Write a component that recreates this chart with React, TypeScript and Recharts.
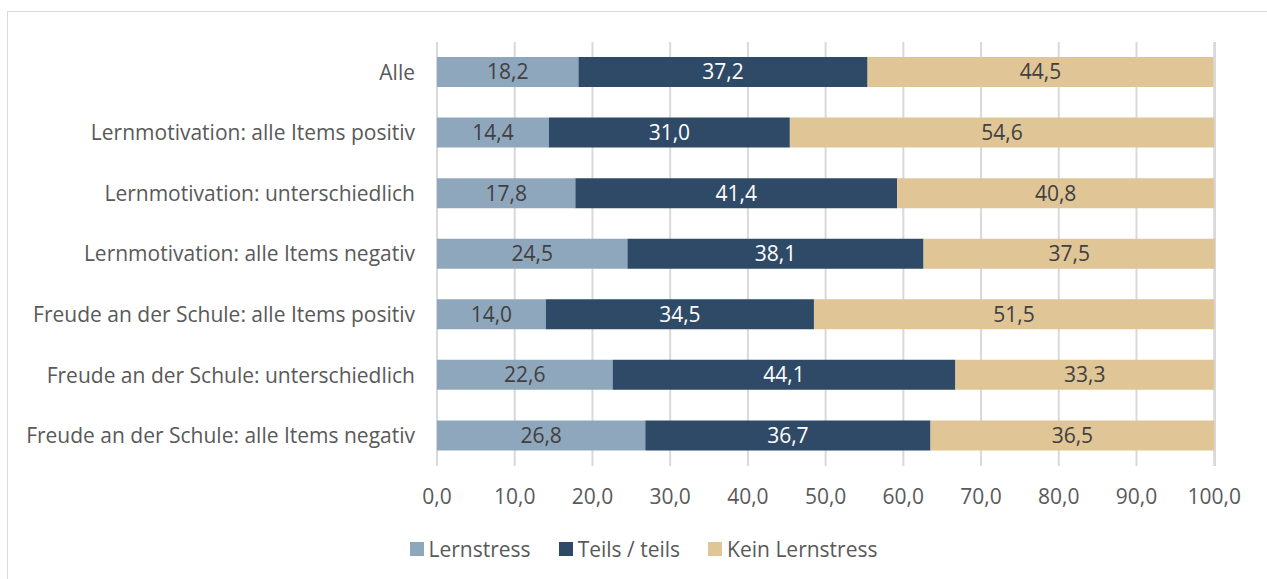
import { BarChart, Bar, XAxis, YAxis, CartesianGrid, Legend, LabelList } from "recharts";

const categories = [
  "Alle",
  "Lernmotivation: alle Items positiv",
  "Lernmotivation: unterschiedlich",
  "Lernmotivation: alle Items negativ",
  "Freude an der Schule: alle Items positiv",
  "Freude an der Schule: unterschiedlich",
  "Freude an der Schule: alle Items negativ",
];

const lernstress = [18.2, 14.4, 17.8, 24.5, 14.0, 22.6, 26.8];
const teilsTeils = [37.2, 31.0, 41.4, 38.1, 34.5, 44.1, 36.7];
const keinLernstress = [44.5, 54.6, 40.8, 37.5, 51.5, 33.3, 36.5];

const xTicks = [0, 10, 20, 30, 40, 50, 60, 70, 80, 90, 100];

const seriesInfo = [
  { key: "lernstress", name: "Lernstress", color: "#8FA7BD" },
  { key: "teils", name: "Teils / teils", color: "#2E4A66" },
  { key: "kein", name: "Kein Lernstress", color: "#E0C597" },
];

const data = categories.map((name, i) => ({
  name,
  lernstress: lernstress[i],
  teils: teilsTeils[i],
  kein: keinLernstress[i],
}));

const FONT = "'Open Sans', sans-serif";
const fmt = (v: any) => Number(v).toFixed(1).replace(".", ",");

const LegendContent = () => (
  <div
    style={{
      height: 40,
      display: "flex",
      alignItems: "center",
      justifyContent: "center",
      fontFamily: FONT,
      fontSize: 21,
      color: "#595959",
      paddingLeft: 72,
    }}
  >
    {seriesInfo.map((s) => (
      <div key={s.key} style={{ display: "flex", alignItems: "center", margin: "0 14px" }}>
        <span style={{ width: 14, height: 14, background: s.color, display: "inline-block", marginRight: 5 }} />
        <span>{s.name}</span>
      </div>
    ))}
  </div>
);

const App = () => {
  return (
    <div style={{ position: "absolute", left: 0, top: 0, width: 1267, height: 579, background: "#fff" }}>
      <div
        style={{
          position: "absolute",
          left: 7,
          top: 11,
          width: 1280,
          height: 600,
          border: "1px solid #D9D9D9",
          boxSizing: "border-box",
        }}
      />
      <div style={{ position: "absolute", left: 0, top: 0 }}>
        <BarChart
          width={1267}
          height={579}
          data={data}
          layout="vertical"
          barSize={30}
          margin={{ top: 42, right: 52, bottom: 10, left: 0 }}
        >
          <CartesianGrid horizontal={false} stroke="#D9D9D9" strokeWidth={2} />
          <XAxis
            type="number"
            domain={[0, 100]}
            ticks={xTicks}
            tickFormatter={fmt}
            axisLine={false}
            tickLine={false}
            tickSize={6}
            tickMargin={17}
            height={63}
            tick={{ fill: "#595959", fontSize: 21, fontFamily: FONT }}
          />
          <YAxis
            type="category"
            dataKey="name"
            width={437}
            axisLine={false}
            tickLine={false}
            tickMargin={16}
            tick={{ fill: "#595959", fontSize: 21, fontFamily: FONT }}
          />
          <Legend verticalAlign="bottom" content={<LegendContent />} />
          <Bar dataKey="lernstress" name="Lernstress" stackId="a" fill="#8FA7BD" isAnimationActive={false}>
            <LabelList dataKey="lernstress" position="center" formatter={fmt} fill="#404040" style={{ fontSize: 21, fontFamily: FONT }} />
          </Bar>
          <Bar dataKey="teils" name="Teils / teils" stackId="a" fill="#2E4A66" isAnimationActive={false}>
            <LabelList dataKey="teils" position="center" formatter={fmt} fill="#FFFFFF" style={{ fontSize: 21, fontFamily: FONT }} />
          </Bar>
          <Bar dataKey="kein" name="Kein Lernstress" stackId="a" fill="#E0C597" isAnimationActive={false}>
            <LabelList dataKey="kein" position="center" formatter={fmt} fill="#404040" style={{ fontSize: 21, fontFamily: FONT }} />
          </Bar>
        </BarChart>
      </div>
    </div>
  );
};

export default App;
